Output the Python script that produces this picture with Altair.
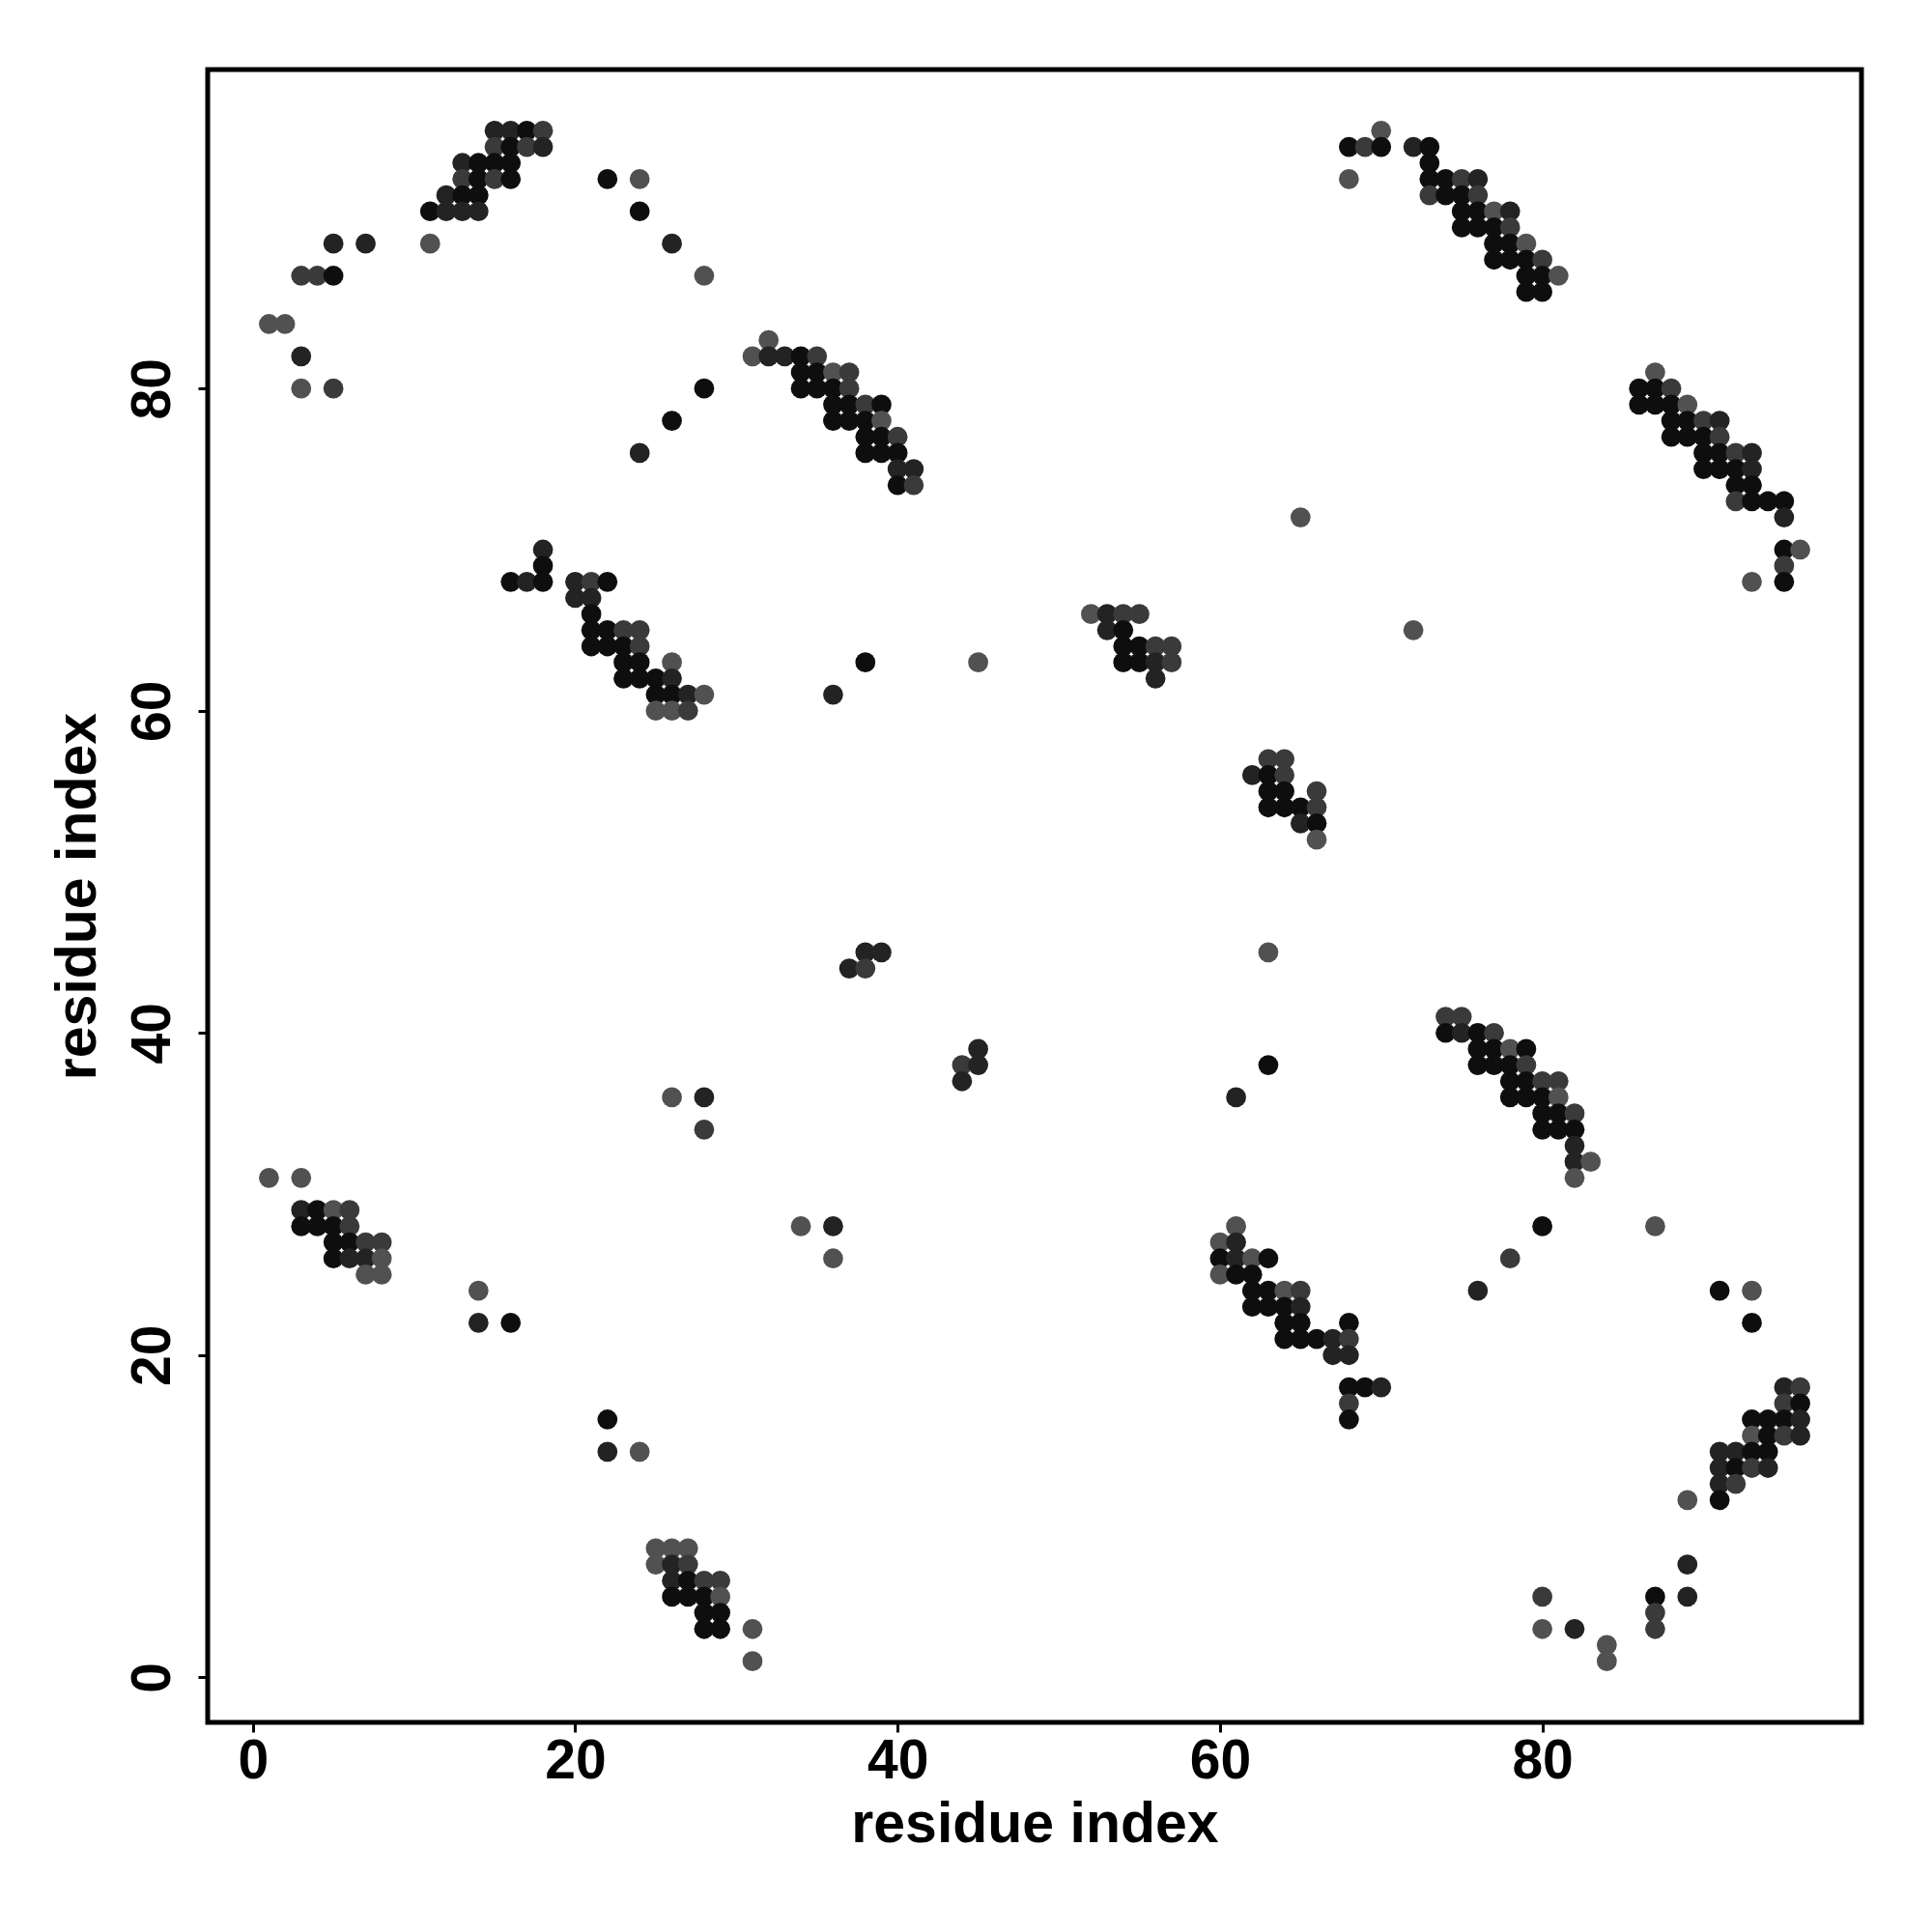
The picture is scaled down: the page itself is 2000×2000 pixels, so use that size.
import altair as alt
import pandas as pd

# contact map rows: residue index on y, residues on x, and a strength level per point
y_rows = [96, 95, 94, 93, 92, 91, 90, 89, 88, 87, 86, 84, 83, 82, 81, 80, 79, 78, 77, 76,
          75, 74, 73, 72, 70, 69, 68, 67, 66, 65, 64, 63, 62, 61, 60, 57, 56, 55, 54, 53,
          52, 45, 44, 41, 40, 39, 38, 37, 36, 35, 34, 33, 32, 31, 29, 28, 27, 26, 25, 24,
          23, 22, 21, 20, 18, 17, 16, 15, 14, 13, 12, 11, 8, 7, 6, 5, 4, 3, 2, 1]

x_rows = [
    [15, 16, 17, 18, 70],
    [15, 16, 17, 18, 68, 69, 70, 72, 73],
    [13, 14, 15, 16, 73],
    [13, 14, 15, 16, 22, 24, 68, 73, 74, 75, 76],
    [12, 13, 14, 73, 74, 75, 76],
    [11, 12, 13, 14, 24, 75, 76, 77, 78],
    [75, 76, 77, 78],
    [5, 7, 11, 26, 77, 78, 79],
    [77, 78, 79, 80],
    [3, 4, 5, 28, 79, 80, 81],
    [79, 80],
    [1, 2],
    [32],
    [3, 31, 32, 33, 34, 35],
    [34, 35, 36, 37, 87],
    [3, 5, 28, 34, 35, 36, 37, 86, 87, 88],
    [36, 37, 38, 39, 86, 87, 88, 89],
    [26, 36, 37, 38, 39, 88, 89, 90, 91],
    [38, 39, 40, 88, 89, 90, 91],
    [24, 38, 39, 40, 90, 91, 92, 93],
    [40, 41, 90, 91, 92, 93],
    [40, 41, 92, 93],
    [92, 93, 94, 95],
    [65, 95],
    [18, 95, 96],
    [18, 95],
    [16, 17, 18, 20, 21, 22, 93, 95],
    [20, 21],
    [21, 52, 53, 54, 55],
    [21, 22, 23, 24, 53, 54, 72],
    [21, 22, 23, 24, 54, 55, 56, 57],
    [23, 24, 26, 38, 45, 54, 55, 56, 57],
    [23, 24, 25, 26, 56],
    [25, 26, 27, 28, 36],
    [25, 26, 27],
    [63, 64],
    [62, 63, 64],
    [63, 64, 66],
    [63, 64, 65, 66],
    [65, 66],
    [66],
    [38, 39, 63],
    [37, 38],
    [74, 75],
    [74, 75, 76, 77],
    [45, 76, 77, 78, 79],
    [44, 45, 63, 76, 77, 78, 79],
    [44, 78, 79, 80, 81],
    [26, 28, 61, 78, 79, 80, 81],
    [80, 81, 82],
    [28, 80, 81, 82],
    [82],
    [82, 83],
    [1, 3, 82],
    [3, 4, 5, 6],
    [3, 4, 5, 6, 34, 36, 61, 80, 87],
    [5, 6, 7, 8, 60, 61],
    [5, 6, 7, 8, 36, 60, 61, 62, 63, 78, 89],
    [7, 8, 60, 61, 62],
    [14, 62, 63, 64, 65, 76, 91, 93],
    [62, 63, 64, 65],
    [14, 16, 64, 65, 68, 93],
    [64, 65, 66, 67, 68],
    [67, 68],
    [68, 69, 70, 95, 96],
    [68, 95, 96],
    [22, 68, 93, 94, 95, 96],
    [93, 94, 95, 96],
    [22, 24, 91, 92, 93, 94],
    [91, 92, 93, 94],
    [91, 92],
    [89, 91],
    [25, 26, 27],
    [25, 26, 27, 89],
    [26, 27, 28, 29],
    [26, 27, 28, 29, 80, 87, 89],
    [28, 29, 87],
    [28, 29, 31, 80, 82, 87],
    [84],
    [31, 84],
]

# strength level of each point: k = strongest, d, m, g = weakest
level_rows = [
    "ddkmg", "mkmdkmkdk", "dkkkk", "mkmkkggkkmd", "dkkmkkm", "kdddkkkgd", "kkkm",
    "ddgdkkg", "kkkm", "mmkgkkg", "kk", "gg", "g", "dgddkm", "kkgmg", "gmkkkkmkkm",
    "kkmkkkkg", "kkkkgkkmd", "kkmkkkm", "dkkkkkmd", "ddkkkd", "kmkk", "mkkk", "gd",
    "dkg", "km", "kdkdmkgk", "dd", "kgdmm", "kkmmdkg", "kkkmkkmm", "kkgkgkkdm", "kkkdd",
    "kkdgd", "ggm", "mm", "dkm", "kkm", "kkkm", "dk", "g", "ddg", "dm", "mm", "kdkm",
    "dkkgk", "mdkkkkm", "dkkmm", "gddkkkg", "kkm", "mkkk", "d", "dg", "ggg", "dkgm",
    "kkkmgdgkg", "kkmmgd", "kddggkdgkm", "gggkk", "gkkgmdkg", "kkkd", "dkkkkk", "kkkdm",
    "dd", "kkddm", "mmk", "kkkkkd", "gkmd", "dgddkk", "dkmd", "dm", "gk", "ggg", "gdmd",
    "dkmm", "kkkgmkd", "kkm", "kkggdm", "g", "gg",
]

score_of_level = {"k": 0.95, "d": 0.82, "m": 0.68, "g": 0.55}

records = []
for yv, xs, lv in zip(y_rows, x_rows, level_rows):
    for xv, c in zip(xs, lv):
        records.append({"i": xv, "j": yv, "score": score_of_level[c]})
df = pd.DataFrame(records)

tick_values = [0, 20, 40, 60, 80]
FONT = "Liberation Sans"

chart = (
    alt.Chart(df)
    .mark_circle(size=430, opacity=1, strokeWidth=0)
    .encode(
        x=alt.X(
            "i:Q",
            scale=alt.Scale(domain=[-2.8, 99.8], nice=False, zero=False),
            axis=alt.Axis(
                values=tick_values, title="residue index", grid=False, domain=False,
                tickSize=10, tickWidth=3, tickColor="black",
                labelFontSize=57, labelFont=FONT, labelFontWeight="bold", labelColor="black",
                labelPadding=2, titleFontSize=59, titleFont=FONT, titleFontWeight="bold",
                titleColor="black", titlePadding=8,
            ),
        ),
        y=alt.Y(
            "j:Q",
            scale=alt.Scale(domain=[-2.8, 99.8], nice=False, zero=False),
            axis=alt.Axis(
                values=tick_values, title="residue index", grid=False, domain=False,
                tickSize=10, tickWidth=3, tickColor="black", labelAngle=270,
                labelFontSize=57, labelFont=FONT, labelFontWeight="bold", labelColor="black",
                labelPadding=18, titleFontSize=59, titleFont=FONT, titleFontWeight="bold",
                titleColor="black", titlePadding=19,
            ),
        ),
        color=alt.Color(
            "score:Q",
            scale=alt.Scale(domain=[0.5, 1.0], range=["#5a5a5a", "#000000"]),
            legend=None,
        ),
    )
    .properties(
        width=1712,
        height=1711,
        background="white",
        autosize=alt.AutoSizeParams(type="none"),
        padding={"left": 207, "top": 64, "right": 60, "bottom": 210},
    )
    .configure_view(stroke="#000000", strokeWidth=5, strokeOpacity=1)
)

chart.save("out.html", embed_options={"renderer": "svg", "actions": False})
